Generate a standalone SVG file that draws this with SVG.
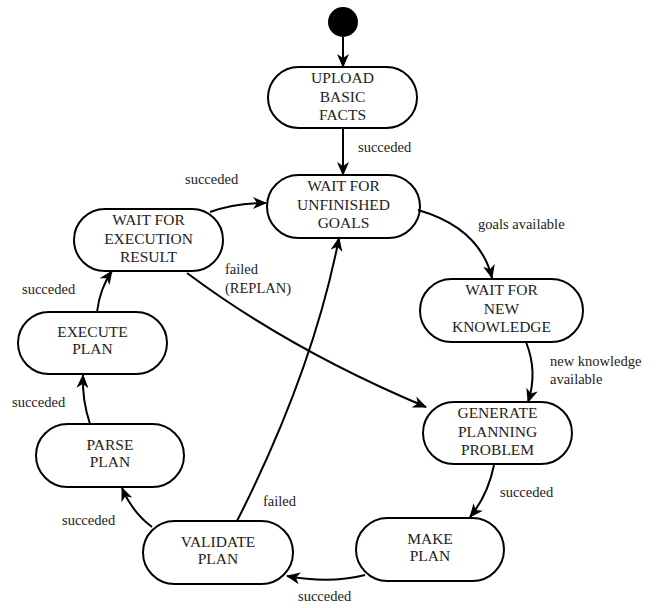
<svg xmlns="http://www.w3.org/2000/svg" width="662" height="608" viewBox="0 0 662 608">
<style>
.n{fill:#fff;stroke:#000;stroke-width:2}
.t{font-family:'Liberation Serif','Times New Roman',serif;font-size:15.5px;fill:#222;text-anchor:middle}
.l{font-family:'Liberation Serif','Times New Roman',serif;font-size:14.5px;fill:#222}
.e{fill:none;stroke:#000;stroke-width:2;marker-end:url(#a)}
</style>
<defs>
<marker id="a" viewBox="0 0 14 12" refX="13" refY="6" markerWidth="14" markerHeight="12" markerUnits="userSpaceOnUse" orient="auto">
<path d="M0,0 L14,6 L0,12 L4,6 z" fill="#000"/>
</marker>
</defs>
<g id="start"><circle cx="343" cy="22" r="15" fill="#000"/></g>
<g id="upload"><rect class="n" x="268" y="67" width="149" height="61" rx="30.5"/><text class="t" x="342.5" y="83">UPLOAD</text><text class="t" x="342.5" y="102">BASIC</text><text class="t" x="342.5" y="120">FACTS</text></g>
<g id="unfinished"><rect class="n" x="267" y="175" width="153" height="63" rx="31.5"/><text class="t" x="343.5" y="191">WAIT FOR</text><text class="t" x="343.5" y="210">UNFINISHED</text><text class="t" x="343.5" y="228">GOALS</text></g>
<g id="execresult"><rect class="n" x="74" y="209" width="149" height="62" rx="31"/><text class="t" x="148.5" y="225">WAIT FOR</text><text class="t" x="148.5" y="244">EXECUTION</text><text class="t" x="148.5" y="262">RESULT</text></g>
<g id="newknowledge"><rect class="n" x="420" y="279" width="163" height="63" rx="31.5"/><text class="t" x="501.5" y="295">WAIT FOR</text><text class="t" x="501.5" y="314">NEW</text><text class="t" x="501.5" y="332">KNOWLEDGE</text></g>
<g id="generate"><rect class="n" x="423" y="402" width="149" height="62" rx="31"/><text class="t" x="497.5" y="418">GENERATE</text><text class="t" x="497.5" y="437">PLANNING</text><text class="t" x="497.5" y="455">PROBLEM</text></g>
<g id="execute"><rect class="n" x="18" y="312" width="149" height="62" rx="31"/><text class="t" x="92.5" y="337">EXECUTE</text><text class="t" x="92.5" y="354">PLAN</text></g>
<g id="parse"><rect class="n" x="36" y="424" width="148" height="63" rx="31.5"/><text class="t" x="110" y="450">PARSE</text><text class="t" x="110" y="467">PLAN</text></g>
<g id="validate"><rect class="n" x="143" y="521" width="150" height="63" rx="31.5"/><text class="t" x="218" y="547">VALIDATE</text><text class="t" x="218" y="564">PLAN</text></g>
<g id="make"><rect class="n" x="356" y="518" width="148" height="63" rx="31.5"/><text class="t" x="430" y="544">MAKE</text><text class="t" x="430" y="561">PLAN</text></g>
<g id="connectors">
<path class="e" d="M343,37 L343,67"/>
<path class="e" d="M343,128 L343,175"/>
<path class="e" d="M418,210 Q480,228 492,278"/>
<path class="e" d="M526,342 Q538,372 528,402"/>
<path class="e" d="M494,465 Q488,495 470,517"/>
<path class="e" d="M365,575 Q330,584 287,576"/>
<path class="e" d="M152,527 Q132,512 122,488"/>
<path class="e" d="M90,424 Q82,400 83,375"/>
<path class="e" d="M97,312 Q100,288 112,271"/>
<path class="e" d="M210,212 Q235,203 266,203"/>
<path class="e" d="M187,273 Q290,350 426,407"/>
<path class="e" d="M237,521 Q313,371 339,238"/>
<text class="l" x="358" y="152">succeded</text>
<text class="l" x="185" y="184">succeded</text>
<text class="l" x="478" y="229">goals available</text>
<text class="l" x="225" y="274">failed</text>
<text class="l" x="225" y="293">(REPLAN)</text>
<text class="l" x="22" y="294">succeded</text>
<text class="l" x="550" y="366">new knowledge</text>
<text class="l" x="550" y="384">available</text>
<text class="l" x="12" y="407">succeded</text>
<text class="l" x="500" y="497">succeded</text>
<text class="l" x="263" y="506">failed</text>
<text class="l" x="62" y="525">succeded</text>
<text class="l" x="298" y="601">succeded</text>
</g>
</svg>
